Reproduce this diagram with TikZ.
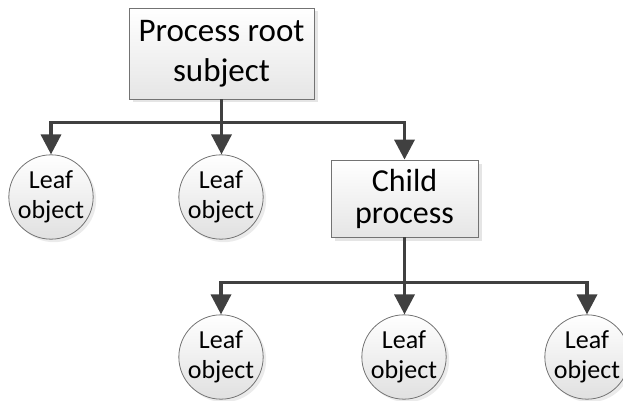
\documentclass[tikz,border=0pt]{standalone}
\usepackage{fontspec}
\setmainfont{Carlito}
\usetikzlibrary{arrows.meta,shadows}

\tikzset{
  procbox/.style={draw=black!55,line width=.8pt,top color=white,bottom color=black!10,
    drop shadow={shadow xshift=3.5pt,shadow yshift=-3.5pt,opacity=.25,fill=black!40},
    align=center,inner sep=0pt},
  leafball/.style={circle,draw=black!55,line width=.8pt,top color=white,bottom color=black!12,
    drop shadow={shadow xshift=3pt,shadow yshift=-3pt,opacity=.2,fill=black!40},
    minimum size=84pt,inner sep=0pt,align=center,font=\fontsize{26}{30}\selectfont},
  link/.style={draw=black!75,line width=3.5pt,-{Triangle[length=20pt,width=20pt]}}
}

\begin{document}
\begin{tikzpicture}[x=1pt,y=-1pt]
\useasboundingbox (0,0) rectangle (623,401);

%process boxes
\node[procbox,minimum width=185pt,minimum height=91pt,font=\fontsize{33}{40}\selectfont]
  (root-box) at (221.5,53.5) {Process root\\subject};
\node[procbox,minimum width=147pt,minimum height=77pt,font=\fontsize{32}{32}\selectfont]
  (child-box) at (404.5,198.5) {Child\\process};

%leaves of the root
\node[leafball] (leaf-1) at (51,197) {Leaf\\object};
\node[leafball] (leaf-2) at (221,197) {Leaf\\object};
%leaves of the child
\node[leafball] (leaf-3) at (221,357) {Leaf\\object};
\node[leafball] (leaf-4) at (404,357) {Leaf\\object};
\node[leafball,minimum size=82pt] (leaf-5) at (587,357) {Leaf\\object};

%root links
\draw[link] (root-box.south) -- ++(0,23) -| (leaf-1.north);
\draw[link] (root-box.south) -- (root-box.south |- leaf-2.north);
\draw[link] (root-box.south) -- ++(0,23) -| (child-box.north);

%child links
\draw[link] (child-box.south) -- ++(0,45) -| (leaf-3.north);
\draw[link] (child-box.south) -- (child-box.south |- leaf-4.north);
\draw[link] (child-box.south) -- ++(0,45) -| (leaf-5.north);
\end{tikzpicture}
\end{document}
